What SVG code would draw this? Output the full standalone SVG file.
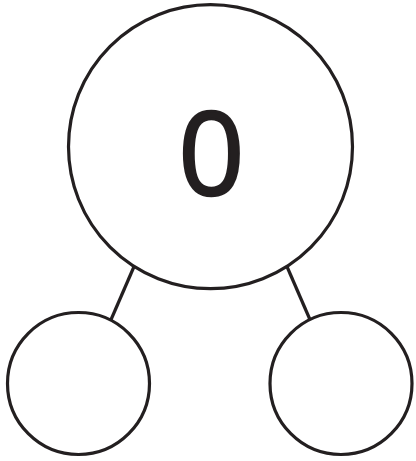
<svg xmlns="http://www.w3.org/2000/svg" width="416" height="461" viewBox="0 0 416 461">
<style>
.n{fill:#fff;stroke:#231f20;stroke-width:3.2}
.e{stroke:#231f20;stroke-width:3.2;fill:none}
.t{font-family:"Open Sans","Noto Sans",sans-serif;font-size:116px;fill:#231f20;stroke:#231f20;stroke-width:2.4;stroke-linejoin:round;text-anchor:middle}
</style>
<rect width="416" height="461" fill="#fff"/>
<g id="connectors">
<line class="e" x1="136" y1="262" x2="110" y2="322"/>
<line class="e" x1="285" y1="262" x2="311" y2="322"/>
</g>
<g id="node-top">
<circle class="n" cx="210.5" cy="146.7" r="142"/>
<text class="t" x="211.5" y="195">0</text>
</g>
<g id="node-left">
<circle class="n" cx="78.5" cy="383.5" r="71"/>
</g>
<g id="node-right">
<circle class="n" cx="341" cy="383.5" r="71"/>
</g>
</svg>
